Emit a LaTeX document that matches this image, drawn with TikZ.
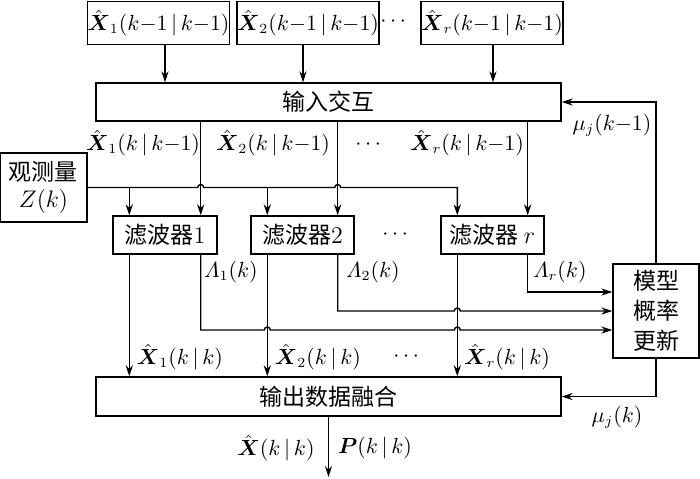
\documentclass[tikz,border=0pt]{standalone}
\usepackage{amsmath,amssymb}
\usepackage{fontspec}
\newfontfamily\cjk{Noto Sans CJK SC}
\usetikzlibrary{arrows.meta,calc}
\newcommand{\xhat}{\hat{\boldsymbol{X}}}

\begin{document}
\begin{tikzpicture}[x=0.5pt, y=-0.5pt, line width=0.7pt,
  font=\cjk\fontsize{11.5}{14}\selectfont,
  box/.style={draw, inner sep=0pt, align=center},
  lbl/.style={inner sep=0pt, font=\fontsize{10.5}{13}\selectfont},
  >={Stealth[length=5.5pt, width=3.6pt]}]
    \useasboundingbox (0,0) rectangle (700,478);
    % inputs of the previous step
    \node (x1) at (158.5,23) [box, lbl, minimum width=70.5pt, minimum height=21.5pt] {$\xhat_1(k{-}1\,|\,k{-}1)$};
    \node (x2) at (308,23) [box, lbl, minimum width=70pt, minimum height=21.5pt] {$\xhat_2(k{-}1\,|\,k{-}1)$};
    \node (xr) at (492,23) [box, lbl, minimum width=71pt, minimum height=21.5pt] {$\xhat_r(k{-}1\,|\,k{-}1)$};
    \node (dots1) at (395,22) [lbl] {$\cdots$};
    \node (mix) at (328.5,102) [box, minimum width=232.5pt, minimum height=19pt] {输入交互};
    \node (z) at (43.5,187.5) [box, minimum width=43.5pt, minimum height=34.5pt, font=\cjk\fontsize{11.5}{13.5}\selectfont] {观测量\\$Z(k)$};
    \node (f1) at (165,235) [box, minimum width=52pt, minimum height=19pt] {滤波器$1$};
    \node (f2) at (302.5,235) [box, minimum width=51.5pt, minimum height=19pt] {滤波器$2$};
    \node (fr) at (492.5,235) [box, minimum width=51.5pt, minimum height=19pt] {滤波器 $r$};
    \node (dots2) at (397,235) [lbl] {$\cdots$};
    \node (model) at (656,311) [box, minimum width=43pt, minimum height=47pt, font=\cjk\fontsize{11.5}{15}\selectfont] {模型\\概率\\更新};
    \node (out) at (328.5,396.5) [box, minimum width=232.5pt, minimum height=19.5pt] {输出数据融合};

    % columns of the filters
    \foreach \f in {f1,f2,fr} {
      \coordinate (\f-l) at ($(\f.west)+(17,0)$);
      \coordinate (\f-r) at ($(\f.east)+(-17,0)$);
    }

    \foreach \i/\s in {x1/3.25pt, x2/-2.5pt, xr/0.5pt}
      \draw[->] ([xshift=\s]\i.south) -- ([xshift=\s]\i.south |- mix.north);
    \foreach \f in {f1,f2,fr}
      \draw[->] (mix.south -| \f-r) -- (\f.north -| \f-r);

    % measurement, hopping over the mixed estimates
    \draw[->] (z.east) -- ($(z.east -| f1-r)+(-3,0)$) arc[start angle=180, end angle=0, radius=1.5pt]
      -- ($(z.east -| f2-r)+(-3,0)$) arc[start angle=180, end angle=0, radius=1.5pt]
      -- (z.east -| fr-l) -- (fr.north -| fr-l);
    \foreach \f in {f1,f2}
      \draw[->] (z.east -| \f-l) -- (\f.north -| \f-l);

    % filtered estimates
    \foreach \f in {f1,f2,fr}
      \draw[->] (\f.south -| \f-l) -- (out.north -| \f-l);

    % likelihoods
    \draw[->] (f1.south -| f1-r) -- ($(model.west -| f1-r)+(0,19)$)
      -- ($(model.west -| f2-l)+(-3,19)$) arc[start angle=180, end angle=0, radius=1.5pt]
      -- ($(model.west -| fr-l)+(-3,19)$) arc[start angle=180, end angle=0, radius=1.5pt]
      -- ($(model.west)+(0,19)$);
    \draw[->] (f2.south -| f2-r) -- (model.west -| f2-r)
      -- ($(model.west -| fr-l)+(-3,0)$) arc[start angle=180, end angle=0, radius=1.5pt]
      -- (model.west);
    \draw[->] (fr.south -| fr-r) -- ($(model.west -| fr-r)+(0,-19)$) -- ($(model.west)+(0,-19)$);

    % model probabilities back
    \draw[->] (model.north) |- (mix.east);
    \draw[->] (model.south) |- (out.east);
    \coordinate (end) at (out.south |- 0,477);
    \draw[->] (out.south) -- (end);

    % labels
    \node (lp1) at (143,143) [lbl] {$\xhat_1(k\,|\,k{-}1)$};
    \node (lp2) at (273,143) [lbl] {$\xhat_2(k\,|\,k{-}1)$};
    \node (dots3) at (370,145) [lbl] {$\cdots$};
    \node (lpr) at (467,143) [lbl] {$\xhat_r(k\,|\,k{-}1)$};
    \node (mu1) at (612,125) [lbl] {$\mu_j(k{-}1)$};
    \node (lam1) at (231,272) [lbl] {$\varLambda_1(k)$};
    \node (lam2) at (373,272) [lbl] {$\varLambda_2(k)$};
    \node (lamr) at (560,272) [lbl] {$\varLambda_r(k)$};
    \node (le1) at (180,357) [lbl] {$\xhat_1(k\,|\,k)$};
    \node (le2) at (318,357) [lbl] {$\xhat_2(k\,|\,k)$};
    \node (dots4) at (408,357) [lbl] {$\cdots$};
    \node (ler) at (507,357) [lbl] {$\xhat_r(k\,|\,k)$};
    \node (mu2) at (617,417) [lbl] {$\mu_j(k)$};
    \node (lx) at (276,448) [lbl] {$\xhat(k\,|\,k)$};
    \node (lpp) at (375,448) [lbl] {$\boldsymbol{P}(k\,|\,k)$};
\end{tikzpicture}
\end{document}
